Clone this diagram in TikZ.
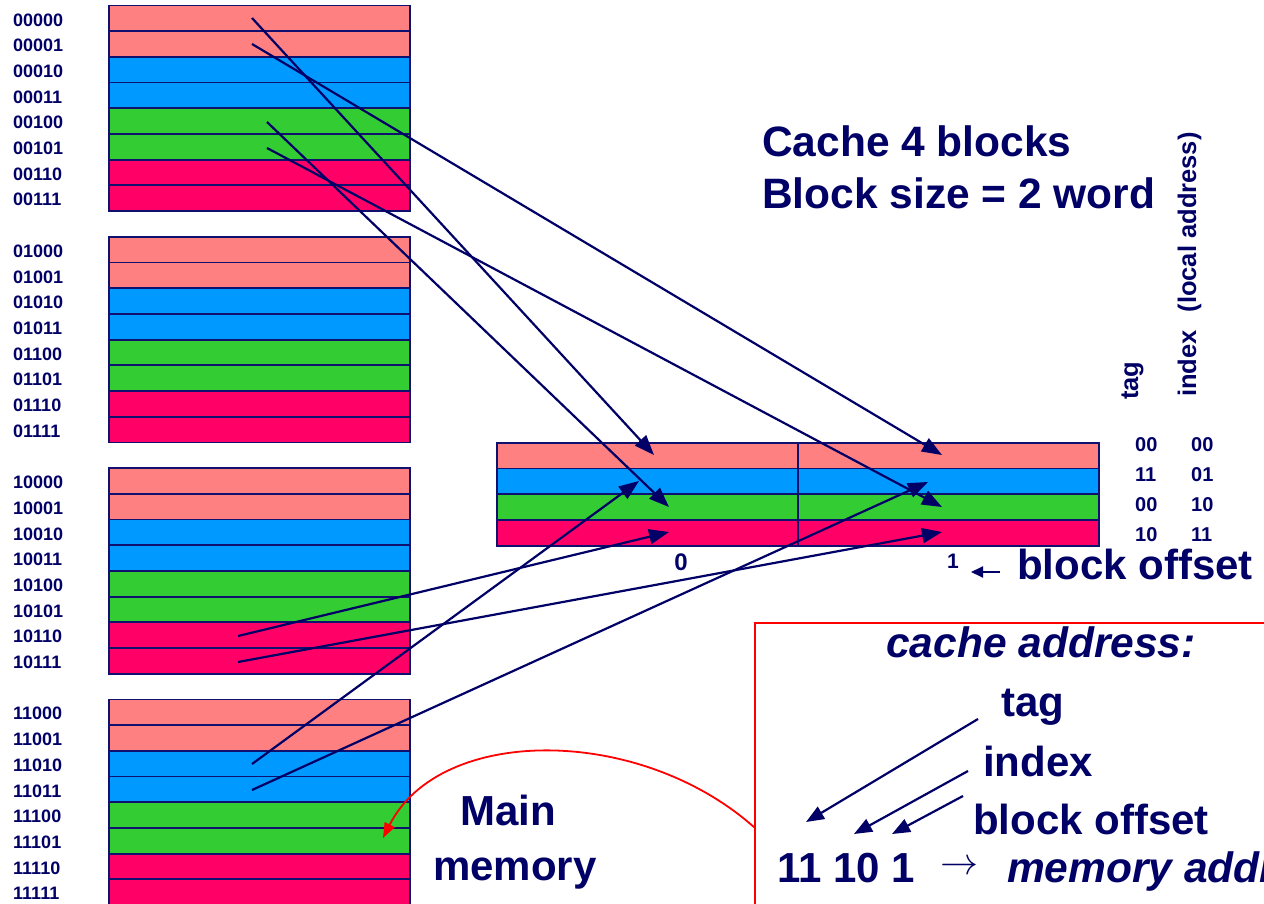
\documentclass[tikz,border=0pt]{standalone}
\usepackage{fontspec}
\setmainfont{Liberation Sans}
\usetikzlibrary{arrows.meta}
\definecolor{navy}{RGB}{0,0,102}
\definecolor{edgec}{RGB}{16,16,110}
\definecolor{salmonc}{RGB}{255,128,128}
\definecolor{bluec}{RGB}{0,153,255}
\definecolor{greenc}{RGB}{51,204,51}
\definecolor{redc}{RGB}{255,0,102}
\begin{document}
\begin{tikzpicture}[x=1pt,y=-1pt,
  memrow/.style={rectangle,draw=edgec,line width=1.8pt,minimum width=301pt,minimum height=25.7pt,inner sep=0pt,outer sep=0pt},
  cacherow/.style={rectangle,draw=edgec,line width=1.8pt,minimum width=301pt,minimum height=25.8pt,inner sep=0pt,outer sep=0pt},
  memlab/.style={anchor=west,inner sep=0pt,text=navy,font=\bfseries\fontsize{18}{18}\selectfont},
  cachelab/.style={anchor=west,inner sep=0pt,text=navy,font=\bfseries\fontsize{20}{20}\selectfont},
  rottxt/.style={rotate=90,anchor=base west,inner sep=0pt,text=navy,font=\bfseries\fontsize{25.5}{25.5}\selectfont},
  bigtxt/.style={anchor=base west,inner sep=0pt,text=navy,font=\bfseries\fontsize{42}{42}\selectfont},
  titletxt/.style={anchor=base west,inner sep=0pt,text=navy,font=\bfseries\fontsize{42.5}{42.5}\selectfont},
  bigit/.style={anchor=base west,inner sep=0pt,text=navy,font=\bfseries\itshape\fontsize{42.5}{42.5}\selectfont},
  maparrow/.style={draw=navy,line width=2.2pt,-{Triangle[length=20pt,width=15pt]}},
  smallarrow/.style={draw=navy,line width=2.2pt,-{Triangle[length=18pt,width=14pt]}},
  redarrow/.style={draw=red,line width=1.8pt,-{Triangle[length=15pt,width=11pt]}}
]
\useasboundingbox (0,0) rectangle (1264,904);
\clip (0,0) rectangle (1264,904);

% main memory
\foreach \lab [count=\n from 0] in {00000,00001,00010,00011,00100,00101,00110,00111,
  01000,01001,01010,01011,01100,01101,01110,01111,
  10000,10001,10010,10011,10100,10101,10110,10111,
  11000,11001,11010,11011,11100,11101,11110,11111}{
  \pgfmathtruncatemacro\g{int(\n/8)}
  \pgfmathtruncatemacro\r{mod(\n,8)}
  \pgfmathtruncatemacro\k{int(\r/2)}
  \pgfmathsetmacro\yc{5.5+\g*231.3+\r*25.7+12.85}
  \ifcase\k \def\col{salmonc}\or \def\col{bluec}\or \def\col{greenc}\or \def\col{redc}\fi
  \node[memrow,fill=\col] (m\lab) at (259.5,\yc) {};
  \node[memlab] (l\lab) at (13,\yc+1.5) {\lab};
}

% cache
\foreach \r/\col in {0/salmonc,1/bluec,2/greenc,3/redc}{
  \pgfmathsetmacro\yc{442.7+12.9+\r*25.8}
  \node[cacherow,fill=\col] (c\r0) at (647.5,\yc) {};
  \node[cacherow,fill=\col] (c\r1) at (948.5,\yc) {};
}

% cache labels
\foreach \t/\i/\y [count=\n] in {00/00/445,11/01/475,00/10/505,10/11/535}{
  \node[cachelab] (ct\n) at (1135,\y) {\t};
  \node[cachelab] (ci\n) at (1191,\y) {\i};
}
\node[rottxt] (rtag) at (1138,400) {tag};
\node[rottxt] (ridx) at (1196,397) {index\hspace{0.7em}(local address)};

% titles
\node[titletxt] (title1) at (762,157) {Cache 4 blocks};
\node[titletxt] (title2) at (762,209) {Block size = 2 word};

% offsets
\node[inner sep=0pt,text=navy,font=\bfseries\fontsize{24}{24}\selectfont] (off0) at (681,562) {0};
\node[inner sep=0pt,text=navy,font=\bfseries\fontsize{21}{21}\selectfont] (off1) at (953,561) {1};
\node[bigtxt] (boff) at (1017,579) {block offset};
\coordinate (la1) at (1000,572);
\coordinate (la2) at (971,572);
\draw[draw=navy,line width=2pt,-{Triangle[length=12pt,width=11pt]}] (la1) -- (la2);

% mapping arrows
\coordinate (s1) at (252,18);   \coordinate (t1) at (654,455);
\coordinate (s2) at (252,44);   \coordinate (t2) at (942,455);
\coordinate (s3) at (267,122);  \coordinate (t3) at (669,507);
\coordinate (s4) at (267,148);  \coordinate (t4) at (942,507);
\coordinate (s5) at (238,636);  \coordinate (t5) at (669,532);
\coordinate (s6) at (238,662);  \coordinate (t6) at (942,532);
\coordinate (s7) at (252,764);  \coordinate (t7) at (639,481);
\coordinate (s8) at (252,790);  \coordinate (t8) at (928,482);
\foreach \i in {1,...,8}{ \draw[maparrow] (s\i) -- (t\i); }

% main memory label
\node[bigtxt] (main1) at (460,825) {Main};
\node[bigtxt] (main2) at (433,880) {memory};

% address box
\draw[red,line width=1.6pt] (755,623) rectangle (1290,930);
\coordinate (rs) at (755,828);
\coordinate (re) at (383,838);
\draw[redarrow] (rs) .. controls (640,725) and (440,725) .. (re);

\node[bigit] (caddr) at (886,657) {cache address:};
\node[bigtxt] (btag) at (1001,716) {tag};
\node[bigtxt] (bidx) at (983,776) {index};
\node[bigtxt] (bbo) at (973,834) {block offset};
\node[bigtxt] (bits) at (777,882) {11 10 1};
\node[anchor=center,inner sep=0pt,text=navy] (arr) at (959,868) {\resizebox{38pt}{!}{$\rightarrow$}};
\node[bigit] (maddr) at (1007,882) {memory address};

\coordinate (a1s) at (978,719);  \coordinate (a1e) at (806,822);
\coordinate (a2s) at (968,771);  \coordinate (a2e) at (854,834);
\coordinate (a3s) at (963,796);  \coordinate (a3e) at (892,834);
\draw[smallarrow] (a1s) -- (a1e);
\draw[smallarrow] (a2s) -- (a2e);
\draw[smallarrow] (a3s) -- (a3e);
\end{tikzpicture}
\end{document}
